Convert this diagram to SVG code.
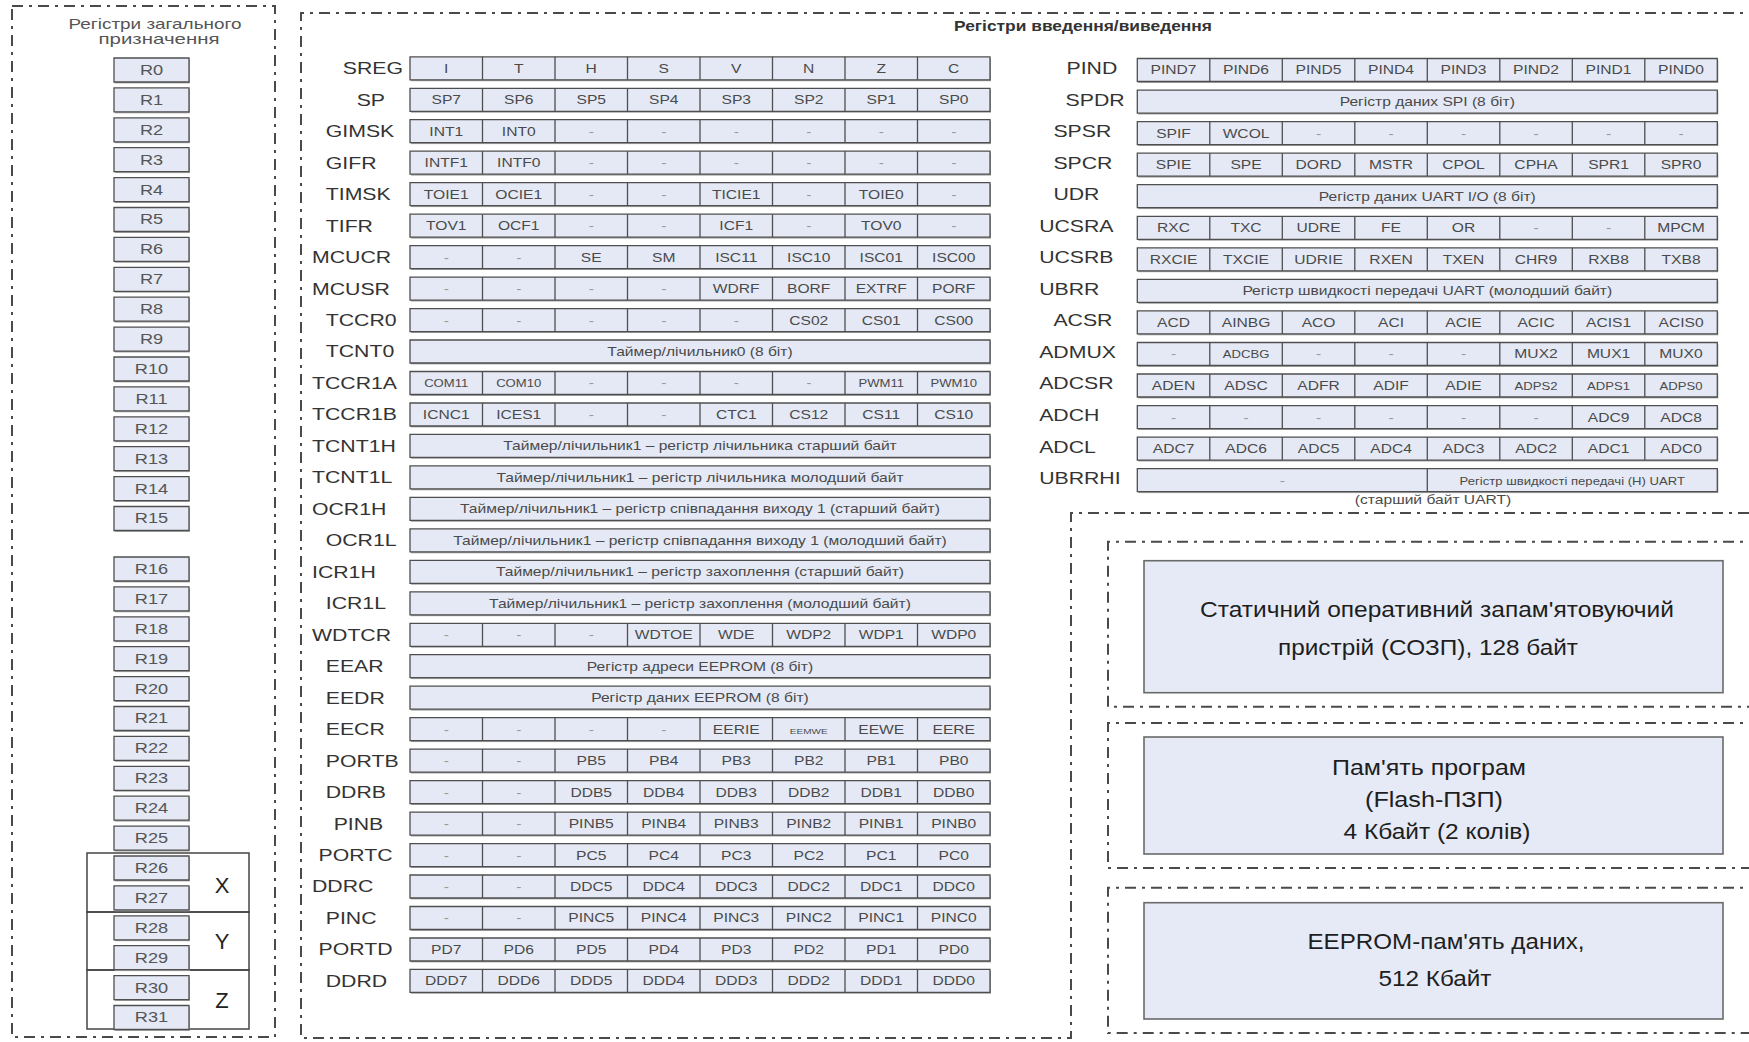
<svg xmlns="http://www.w3.org/2000/svg" xmlns:xlink="http://www.w3.org/1999/xlink" width="1749" height="1042" viewBox="0 0 1749 1042">
<style>
.bx{fill:#e4e9f5;stroke:#4f4f4f;stroke-width:1.3px;vector-effect:non-scaling-stroke}
.ln{fill:none;stroke:#4f4f4f;stroke-width:1.3px;vector-effect:non-scaling-stroke}
.sh{fill:#a3a3a3}
.mb{fill:#e5eaf6;stroke:#6a6a6a;stroke-width:1.6px}
.dd{fill:none;stroke:#4a4a4a;stroke-width:2px;stroke-dasharray:11 6 3 6}
.lb{font-family:"Liberation Sans",Arial,sans-serif;font-size:17px;fill:#333}
.ct{font-family:"Liberation Sans",Arial,sans-serif;font-size:12.5px;fill:#4a4a4a;text-anchor:middle}
.sm{font-size:10.5px}
.xs{font-size:8px}
.d{fill:#999}
.rt{font-family:"Liberation Sans",Arial,sans-serif;font-size:14px;fill:#555;text-anchor:middle}
.mt{font-family:"Liberation Sans",Arial,sans-serif;font-size:22px;fill:#1e1e1e;text-anchor:middle}
.ttl{font-family:"Liberation Sans",Arial,sans-serif;font-size:14.5px;fill:#555;text-anchor:middle}
</style>
<defs>
<g id="b8"><rect x="0.8" y="1.4" width="464" height="23" class="sh"/><rect width="464" height="23" class="bx"/><path class="ln" d="M58 0V23M116 0V23M174 0V23M232 0V23M290 0V23M348 0V23M406 0V23"/></g>
<g id="b1"><rect x="0.8" y="1.4" width="464" height="23" class="sh"/><rect width="464" height="23" class="bx"/></g>
<g id="b2"><rect x="0.8" y="1.4" width="464" height="23" class="sh"/><rect width="464" height="23" class="bx"/><path class="ln" d="M232 0V23"/></g>
<g id="rb"><rect x="-28.2" y="1.4" width="57.7" height="24" class="sh"/><rect x="-28.85" width="57.7" height="24" class="bx"/></g>
</defs>
<rect width="1749" height="1042" fill="#ffffff"/>

<!-- General purpose registers panel -->
<g id="gpr-panel">
<rect class="dd" x="12" y="6" width="263" height="1031"/>
<text class="ttl" x="155" y="28.5" textLength="173" lengthAdjust="spacingAndGlyphs">Регістри загального</text>
<text class="ttl" x="159" y="43.5" textLength="121" lengthAdjust="spacingAndGlyphs">призначення</text>
<g id="xyz">
<rect x="87" y="853" width="162" height="59" fill="none" stroke="#444" stroke-width="1.5"/>
<rect x="87" y="912" width="162" height="58" fill="none" stroke="#444" stroke-width="1.5"/>
<rect x="87" y="970" width="162" height="59" fill="none" stroke="#444" stroke-width="1.5"/>
<text x="222" y="893" font-family="Liberation Sans, Arial, sans-serif" font-size="22" fill="#222" text-anchor="middle">X</text>
<text x="222" y="949" font-family="Liberation Sans, Arial, sans-serif" font-size="22" fill="#222" text-anchor="middle">Y</text>
<text x="222" y="1008" font-family="Liberation Sans, Arial, sans-serif" font-size="22" fill="#222" text-anchor="middle">Z</text>
</g>
<g id="rregs" transform="translate(151.5 0) scale(1.3 1)">
<use href="#rb" y="58"/><text class="rt" x="0" y="75">R0</text>
<use href="#rb" y="87.9"/><text class="rt" x="0" y="104.9">R1</text>
<use href="#rb" y="117.8"/><text class="rt" x="0" y="134.8">R2</text>
<use href="#rb" y="147.7"/><text class="rt" x="0" y="164.7">R3</text>
<use href="#rb" y="177.6"/><text class="rt" x="0" y="194.6">R4</text>
<use href="#rb" y="207.5"/><text class="rt" x="0" y="224.5">R5</text>
<use href="#rb" y="237.4"/><text class="rt" x="0" y="254.4">R6</text>
<use href="#rb" y="267.3"/><text class="rt" x="0" y="284.3">R7</text>
<use href="#rb" y="297.2"/><text class="rt" x="0" y="314.2">R8</text>
<use href="#rb" y="327.1"/><text class="rt" x="0" y="344.1">R9</text>
<use href="#rb" y="357"/><text class="rt" x="0" y="374">R10</text>
<use href="#rb" y="386.9"/><text class="rt" x="0" y="403.9">R11</text>
<use href="#rb" y="416.8"/><text class="rt" x="0" y="433.8">R12</text>
<use href="#rb" y="446.7"/><text class="rt" x="0" y="463.7">R13</text>
<use href="#rb" y="476.6"/><text class="rt" x="0" y="493.6">R14</text>
<use href="#rb" y="506.5"/><text class="rt" x="0" y="523.5">R15</text>
<use href="#rb" y="557"/><text class="rt" x="0" y="574">R16</text>
<use href="#rb" y="586.9"/><text class="rt" x="0" y="603.9">R17</text>
<use href="#rb" y="616.8"/><text class="rt" x="0" y="633.8">R18</text>
<use href="#rb" y="646.7"/><text class="rt" x="0" y="663.7">R19</text>
<use href="#rb" y="676.6"/><text class="rt" x="0" y="693.6">R20</text>
<use href="#rb" y="706.5"/><text class="rt" x="0" y="723.5">R21</text>
<use href="#rb" y="736.4"/><text class="rt" x="0" y="753.4">R22</text>
<use href="#rb" y="766.3"/><text class="rt" x="0" y="783.3">R23</text>
<use href="#rb" y="796.2"/><text class="rt" x="0" y="813.2">R24</text>
<use href="#rb" y="826.1"/><text class="rt" x="0" y="843.1">R25</text>
<use href="#rb" y="856"/><text class="rt" x="0" y="873">R26</text>
<use href="#rb" y="885.9"/><text class="rt" x="0" y="902.9">R27</text>
<use href="#rb" y="915.8"/><text class="rt" x="0" y="932.8">R28</text>
<use href="#rb" y="945.7"/><text class="rt" x="0" y="962.7">R29</text>
<use href="#rb" y="975.6"/><text class="rt" x="0" y="992.6">R30</text>
<use href="#rb" y="1005.5"/><text class="rt" x="0" y="1022.5">R31</text>
</g>
</g>

<!-- I/O registers panel -->
<g id="io-panel">
<path class="dd" d="M1749 513H1071V1038H301V13H1749"/>
<text x="1083" y="31" font-family="Liberation Sans, Arial, sans-serif" font-size="14.5" font-weight="bold" fill="#333" text-anchor="middle" textLength="258" lengthAdjust="spacingAndGlyphs">Регістри введення/виведення</text>

<g id="io-left" transform="translate(410 0) scale(1.25 1)">
<g id="SREG"><use href="#b8" y="56.8"/><text class="lb" x="-53.8" y="74.3">SREG</text><text class="ct" y="72.8"><tspan x="29">I</tspan><tspan x="87">T</tspan><tspan x="145">H</tspan><tspan x="203">S</tspan><tspan x="261">V</tspan><tspan x="319">N</tspan><tspan x="377">Z</tspan><tspan x="435">C</tspan></text></g>
<g id="SP"><use href="#b8" y="88.3"/><text class="lb" x="-42.7" y="105.8">SP</text><text class="ct" y="104.3"><tspan x="29">SP7</tspan><tspan x="87">SP6</tspan><tspan x="145">SP5</tspan><tspan x="203">SP4</tspan><tspan x="261">SP3</tspan><tspan x="319">SP2</tspan><tspan x="377">SP1</tspan><tspan x="435">SP0</tspan></text></g>
<g id="GIMSK"><use href="#b8" y="119.7"/><text class="lb" x="-67.4" y="137.2">GIMSK</text><text class="ct" y="135.7"><tspan x="29">INT1</tspan><tspan x="87">INT0</tspan><tspan class="d" x="145">-</tspan><tspan class="d" x="203">-</tspan><tspan class="d" x="261">-</tspan><tspan class="d" x="319">-</tspan><tspan class="d" x="377">-</tspan><tspan class="d" x="435">-</tspan></text></g>
<g id="GIFR"><use href="#b8" y="151.2"/><text class="lb" x="-67.4" y="168.7">GIFR</text><text class="ct" y="167.2"><tspan x="29">INTF1</tspan><tspan x="87">INTF0</tspan><tspan class="d" x="145">-</tspan><tspan class="d" x="203">-</tspan><tspan class="d" x="261">-</tspan><tspan class="d" x="319">-</tspan><tspan class="d" x="377">-</tspan><tspan class="d" x="435">-</tspan></text></g>
<g id="TIMSK"><use href="#b8" y="182.7"/><text class="lb" x="-67.4" y="200.2">TIMSK</text><text class="ct" y="198.7"><tspan x="29">TOIE1</tspan><tspan x="87">OCIE1</tspan><tspan class="d" x="145">-</tspan><tspan class="d" x="203">-</tspan><tspan x="261">TICIE1</tspan><tspan class="d" x="319">-</tspan><tspan x="377">TOIE0</tspan><tspan class="d" x="435">-</tspan></text></g>
<g id="TIFR"><use href="#b8" y="214.2"/><text class="lb" x="-67.4" y="231.7">TIFR</text><text class="ct" y="230.2"><tspan x="29">TOV1</tspan><tspan x="87">OCF1</tspan><tspan class="d" x="145">-</tspan><tspan class="d" x="203">-</tspan><tspan x="261">ICF1</tspan><tspan class="d" x="319">-</tspan><tspan x="377">TOV0</tspan><tspan class="d" x="435">-</tspan></text></g>
<g id="MCUCR"><use href="#b8" y="245.6"/><text class="lb" x="-78.4" y="263.1">MCUCR</text><text class="ct" y="261.6"><tspan class="d" x="29">-</tspan><tspan class="d" x="87">-</tspan><tspan x="145">SE</tspan><tspan x="203">SM</tspan><tspan x="261">ISC11</tspan><tspan x="319">ISC10</tspan><tspan x="377">ISC01</tspan><tspan x="435">ISC00</tspan></text></g>
<g id="MCUSR"><use href="#b8" y="277.1"/><text class="lb" x="-78.4" y="294.6">MCUSR</text><text class="ct" y="293.1"><tspan class="d" x="29">-</tspan><tspan class="d" x="87">-</tspan><tspan class="d" x="145">-</tspan><tspan class="d" x="203">-</tspan><tspan x="261">WDRF</tspan><tspan x="319">BORF</tspan><tspan x="377">EXTRF</tspan><tspan x="435">PORF</tspan></text></g>
<g id="TCCR0"><use href="#b8" y="308.6"/><text class="lb" x="-67.4" y="326.1">TCCR0</text><text class="ct" y="324.6"><tspan class="d" x="29">-</tspan><tspan class="d" x="87">-</tspan><tspan class="d" x="145">-</tspan><tspan class="d" x="203">-</tspan><tspan class="d" x="261">-</tspan><tspan x="319">CS02</tspan><tspan x="377">CS01</tspan><tspan x="435">CS00</tspan></text></g>
<g id="TCNT0"><use href="#b1" y="340"/><text class="lb" x="-67.4" y="357.5">TCNT0</text><text class="ct" x="232" y="356">Таймер/лічильник0 (8 біт)</text></g>
<g id="TCCR1A"><use href="#b8" y="371.5"/><text class="lb" x="-78.4" y="389">TCCR1A</text><text class="ct" y="387"><tspan class="sm" x="29">COM11</tspan><tspan class="sm" x="87">COM10</tspan><tspan class="d" x="145">-</tspan><tspan class="d" x="203">-</tspan><tspan class="d" x="261">-</tspan><tspan class="d" x="319">-</tspan><tspan class="sm" x="377">PWM11</tspan><tspan class="sm" x="435">PWM10</tspan></text></g>
<g id="TCCR1B"><use href="#b8" y="403"/><text class="lb" x="-78.4" y="420.5">TCCR1B</text><text class="ct" y="419"><tspan x="29">ICNC1</tspan><tspan x="87">ICES1</tspan><tspan class="d" x="145">-</tspan><tspan class="d" x="203">-</tspan><tspan x="261">CTC1</tspan><tspan x="319">CS12</tspan><tspan x="377">CS11</tspan><tspan x="435">CS10</tspan></text></g>
<g id="TCNT1H"><use href="#b1" y="434.4"/><text class="lb" x="-78.4" y="451.9">TCNT1H</text><text class="ct" x="232" y="450.4">Таймер/лічильник1 – регістр лічильника  старший байт</text></g>
<g id="TCNT1L"><use href="#b1" y="465.9"/><text class="lb" x="-78.4" y="483.4">TCNT1L</text><text class="ct" x="232" y="481.9">Таймер/лічильник1 – регістр лічильника  молодший  байт</text></g>
<g id="OCR1H"><use href="#b1" y="497.4"/><text class="lb" x="-78.4" y="514.9">OCR1H</text><text class="ct" x="232" y="513.4">Таймер/лічильник1 – регістр співпадання виходу 1 (старший байт)</text></g>
<g id="OCR1L"><use href="#b1" y="528.9"/><text class="lb" x="-67.4" y="546.4">OCR1L</text><text class="ct" x="232" y="544.9">Таймер/лічильник1 – регістр співпадання виходу 1 (молодший байт)</text></g>
<g id="ICR1H"><use href="#b1" y="560.3"/><text class="lb" x="-78.4" y="577.8">ICR1H</text><text class="ct" x="232" y="576.3">Таймер/лічильник1 – регістр  захоплення  (старший байт)</text></g>
<g id="ICR1L"><use href="#b1" y="591.8"/><text class="lb" x="-67.4" y="609.3">ICR1L</text><text class="ct" x="232" y="607.8">Таймер/лічильник1 – регістр захоплення (молодший байт)</text></g>
<g id="WDTCR"><use href="#b8" y="623.3"/><text class="lb" x="-78.4" y="640.8">WDTCR</text><text class="ct" y="639.3"><tspan class="d" x="29">-</tspan><tspan class="d" x="87">-</tspan><tspan class="d" x="145">-</tspan><tspan x="203">WDTOE</tspan><tspan x="261">WDE</tspan><tspan x="319">WDP2</tspan><tspan x="377">WDP1</tspan><tspan x="435">WDP0</tspan></text></g>
<g id="EEAR"><use href="#b1" y="654.7"/><text class="lb" x="-67.4" y="672.2">EEAR</text><text class="ct" x="232" y="670.7">Регістр адреси EEPROM (8 біт)</text></g>
<g id="EEDR"><use href="#b1" y="686.2"/><text class="lb" x="-67.4" y="703.7">EEDR</text><text class="ct" x="232" y="702.2">Регістр даних EEPROM (8 біт)</text></g>
<g id="EECR"><use href="#b8" y="717.7"/><text class="lb" x="-67.4" y="735.2">EECR</text><text class="ct" y="733.7"><tspan class="d" x="29">-</tspan><tspan class="d" x="87">-</tspan><tspan class="d" x="145">-</tspan><tspan class="d" x="203">-</tspan><tspan x="261">EERIE</tspan><tspan class="xs" x="319">EEMWE</tspan><tspan x="377">EEWE</tspan><tspan x="435">EERE</tspan></text></g>
<g id="PORTB"><use href="#b8" y="749.1"/><text class="lb" x="-67.4" y="766.6">PORTB</text><text class="ct" y="765.1"><tspan class="d" x="29">-</tspan><tspan class="d" x="87">-</tspan><tspan x="145">PB5</tspan><tspan x="203">PB4</tspan><tspan x="261">PB3</tspan><tspan x="319">PB2</tspan><tspan x="377">PB1</tspan><tspan x="435">PB0</tspan></text></g>
<g id="DDRB"><use href="#b8" y="780.6"/><text class="lb" x="-67.4" y="798.1">DDRB</text><text class="ct" y="796.6"><tspan class="d" x="29">-</tspan><tspan class="d" x="87">-</tspan><tspan x="145">DDB5</tspan><tspan x="203">DDB4</tspan><tspan x="261">DDB3</tspan><tspan x="319">DDB2</tspan><tspan x="377">DDB1</tspan><tspan x="435">DDB0</tspan></text></g>
<g id="PINB"><use href="#b8" y="812.1"/><text class="lb" x="-61.1" y="829.6">PINB</text><text class="ct" y="828.1"><tspan class="d" x="29">-</tspan><tspan class="d" x="87">-</tspan><tspan x="145">PINB5</tspan><tspan x="203">PINB4</tspan><tspan x="261">PINB3</tspan><tspan x="319">PINB2</tspan><tspan x="377">PINB1</tspan><tspan x="435">PINB0</tspan></text></g>
<g id="PORTC"><use href="#b8" y="843.6"/><text class="lb" x="-73.2" y="861.1">PORTC</text><text class="ct" y="859.6"><tspan class="d" x="29">-</tspan><tspan class="d" x="87">-</tspan><tspan x="145">PC5</tspan><tspan x="203">PC4</tspan><tspan x="261">PC3</tspan><tspan x="319">PC2</tspan><tspan x="377">PC1</tspan><tspan x="435">PC0</tspan></text></g>
<g id="DDRC"><use href="#b8" y="875"/><text class="lb" x="-78.4" y="892.5">DDRC</text><text class="ct" y="891"><tspan class="d" x="29">-</tspan><tspan class="d" x="87">-</tspan><tspan x="145">DDC5</tspan><tspan x="203">DDC4</tspan><tspan x="261">DDC3</tspan><tspan x="319">DDC2</tspan><tspan x="377">DDC1</tspan><tspan x="435">DDC0</tspan></text></g>
<g id="PINC"><use href="#b8" y="906.5"/><text class="lb" x="-67.4" y="924">PINC</text><text class="ct" y="922.5"><tspan class="d" x="29">-</tspan><tspan class="d" x="87">-</tspan><tspan x="145">PINC5</tspan><tspan x="203">PINC4</tspan><tspan x="261">PINC3</tspan><tspan x="319">PINC2</tspan><tspan x="377">PINC1</tspan><tspan x="435">PINC0</tspan></text></g>
<g id="PORTD"><use href="#b8" y="938"/><text class="lb" x="-73.2" y="955.5">PORTD</text><text class="ct" y="954"><tspan x="29">PD7</tspan><tspan x="87">PD6</tspan><tspan x="145">PD5</tspan><tspan x="203">PD4</tspan><tspan x="261">PD3</tspan><tspan x="319">PD2</tspan><tspan x="377">PD1</tspan><tspan x="435">PD0</tspan></text></g>
<g id="DDRD"><use href="#b8" y="969.4"/><text class="lb" x="-67.4" y="986.9">DDRD</text><text class="ct" y="985.4"><tspan x="29">DDD7</tspan><tspan x="87">DDD6</tspan><tspan x="145">DDD5</tspan><tspan x="203">DDD4</tspan><tspan x="261">DDD3</tspan><tspan x="319">DDD2</tspan><tspan x="377">DDD1</tspan><tspan x="435">DDD0</tspan></text></g>
</g>

<g id="io-right" transform="translate(1137.3 0) scale(1.25 1)">
<g id="PIND"><use href="#b8" y="58.5"/><text class="lb" x="-56.6" y="74">PIND</text><text class="ct" y="74.5"><tspan x="29">PIND7</tspan><tspan x="87">PIND6</tspan><tspan x="145">PIND5</tspan><tspan x="203">PIND4</tspan><tspan x="261">PIND3</tspan><tspan x="319">PIND2</tspan><tspan x="377">PIND1</tspan><tspan x="435">PIND0</tspan></text></g>
<g id="SPDR"><use href="#b1" y="90.1"/><text class="lb" x="-57.4" y="105.6">SPDR</text><text class="ct" x="232" y="106.1">Регістр даних SPI (8 біт)</text></g>
<g id="SPSR"><use href="#b8" y="121.6"/><text class="lb" x="-67.1" y="137.1">SPSR</text><text class="ct" y="137.6"><tspan x="29">SPIF</tspan><tspan x="87">WCOL</tspan><tspan class="d" x="145">-</tspan><tspan class="d" x="203">-</tspan><tspan class="d" x="261">-</tspan><tspan class="d" x="319">-</tspan><tspan class="d" x="377">-</tspan><tspan class="d" x="435">-</tspan></text></g>
<g id="SPCR"><use href="#b8" y="153.2"/><text class="lb" x="-67.1" y="168.7">SPCR</text><text class="ct" y="169.2"><tspan x="29">SPIE</tspan><tspan x="87">SPE</tspan><tspan x="145">DORD</tspan><tspan x="203">MSTR</tspan><tspan x="261">CPOL</tspan><tspan x="319">CPHA</tspan><tspan x="377">SPR1</tspan><tspan x="435">SPR0</tspan></text></g>
<g id="UDR"><use href="#b1" y="184.7"/><text class="lb" x="-67.1" y="200.2">UDR</text><text class="ct" x="232" y="200.7">Регістр даних UART I/O (8 біт)</text></g>
<g id="UCSRA"><use href="#b8" y="216.3"/><text class="lb" x="-78.5" y="231.8">UCSRA</text><text class="ct" y="232.3"><tspan x="29">RXC</tspan><tspan x="87">TXC</tspan><tspan x="145">UDRE</tspan><tspan x="203">FE</tspan><tspan x="261">OR</tspan><tspan class="d" x="319">-</tspan><tspan class="d" x="377">-</tspan><tspan x="435">MPCM</tspan></text></g>
<g id="UCSRB"><use href="#b8" y="247.8"/><text class="lb" x="-78.5" y="263.3">UCSRB</text><text class="ct" y="263.8"><tspan x="29">RXCIE</tspan><tspan x="87">TXCIE</tspan><tspan x="145">UDRIE</tspan><tspan x="203">RXEN</tspan><tspan x="261">TXEN</tspan><tspan x="319">CHR9</tspan><tspan x="377">RXB8</tspan><tspan x="435">TXB8</tspan></text></g>
<g id="UBRR"><use href="#b1" y="279.4"/><text class="lb" x="-78.5" y="294.9">UBRR</text><text class="ct" x="232" y="295.4">Регістр швидкості передачі UART (молодший байт)</text></g>
<g id="ACSR"><use href="#b8" y="310.9"/><text class="lb" x="-67.1" y="326.4">ACSR</text><text class="ct" y="326.9"><tspan x="29">ACD</tspan><tspan x="87">AINBG</tspan><tspan x="145">ACO</tspan><tspan x="203">ACI</tspan><tspan x="261">ACIE</tspan><tspan x="319">ACIC</tspan><tspan x="377">ACIS1</tspan><tspan x="435">ACIS0</tspan></text></g>
<g id="ADMUX"><use href="#b8" y="342.5"/><text class="lb" x="-78.5" y="358">ADMUX</text><text class="ct" y="358.5"><tspan class="d" x="29">-</tspan><tspan class="sm" x="87">ADCBG</tspan><tspan class="d" x="145">-</tspan><tspan class="d" x="203">-</tspan><tspan class="d" x="261">-</tspan><tspan x="319">MUX2</tspan><tspan x="377">MUX1</tspan><tspan x="435">MUX0</tspan></text></g>
<g id="ADCSR"><use href="#b8" y="374"/><text class="lb" x="-78.5" y="389.5">ADCSR</text><text class="ct" y="390"><tspan x="29">ADEN</tspan><tspan x="87">ADSC</tspan><tspan x="145">ADFR</tspan><tspan x="203">ADIF</tspan><tspan x="261">ADIE</tspan><tspan class="sm" x="319">ADPS2</tspan><tspan class="sm" x="377">ADPS1</tspan><tspan class="sm" x="435">ADPS0</tspan></text></g>
<g id="ADCH"><use href="#b8" y="405.6"/><text class="lb" x="-78.5" y="421.1">ADCH</text><text class="ct" y="421.6"><tspan class="d" x="29">-</tspan><tspan class="d" x="87">-</tspan><tspan class="d" x="145">-</tspan><tspan class="d" x="203">-</tspan><tspan class="d" x="261">-</tspan><tspan class="d" x="319">-</tspan><tspan x="377">ADC9</tspan><tspan x="435">ADC8</tspan></text></g>
<g id="ADCL"><use href="#b8" y="437.1"/><text class="lb" x="-78.5" y="452.6">ADCL</text><text class="ct" y="453.1"><tspan x="29">ADC7</tspan><tspan x="87">ADC6</tspan><tspan x="145">ADC5</tspan><tspan x="203">ADC4</tspan><tspan x="261">ADC3</tspan><tspan x="319">ADC2</tspan><tspan x="377">ADC1</tspan><tspan x="435">ADC0</tspan></text></g>
<g id="UBRRHI"><use href="#b2" y="468.7"/><text class="lb" x="-78.5" y="484.2">UBRRHI</text><text class="ct" y="484.7"><tspan class="d" x="116">-</tspan><tspan class="sm" x="348">Регістр швидкості передачі (H) UART</tspan></text><text class="ct" x="236.6" y="504.5" font-size="13">(старший байт UART)</text></g>
</g>

<g id="memory">
<path class="dd" d="M1760 541.7H1108V706.7H1760"/>
<path class="dd" d="M1760 723H1108V868H1760"/>
<path class="dd" d="M1760 887.7H1108V1033H1760"/>
<g id="sram">
<rect class="mb" x="1144" y="560.7" width="579" height="132"/>
<text class="mt" x="1437" y="616.5" textLength="474" lengthAdjust="spacingAndGlyphs">Статичний оперативний запам'ятовуючий</text>
<text class="mt" x="1428" y="654.5" textLength="300" lengthAdjust="spacingAndGlyphs">пристрій (СОЗП), 128 байт</text>
</g>
<g id="flash">
<rect class="mb" x="1144" y="737" width="579" height="117"/>
<text class="mt" x="1429" y="774.5" textLength="194" lengthAdjust="spacingAndGlyphs">Пам'ять програм</text>
<text class="mt" x="1434" y="806.5" textLength="138" lengthAdjust="spacingAndGlyphs">(Flash-ПЗП)</text>
<text class="mt" x="1437" y="838.5" textLength="187" lengthAdjust="spacingAndGlyphs">4 Кбайт (2 колів)</text>
</g>
<g id="eeprom">
<rect class="mb" x="1144" y="902.7" width="579" height="116.3"/>
<text class="mt" x="1446" y="948.5" textLength="277" lengthAdjust="spacingAndGlyphs">EEPROM-пам'ять даних,</text>
<text class="mt" x="1435" y="985.5" textLength="113" lengthAdjust="spacingAndGlyphs">512 Кбайт</text>
</g>
</g>
</g>
</svg>
